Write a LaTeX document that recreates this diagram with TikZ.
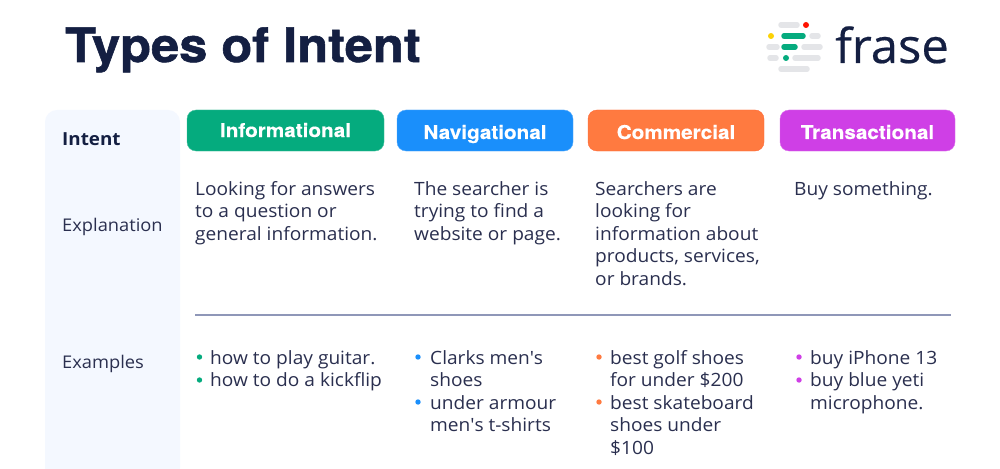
\documentclass[tikz,border=0pt]{standalone}
\usepackage{fontspec}
\setmainfont{Open Sans}[FakeStretch=1.045]
\newfontfamily\titlefont{TeX Gyre Heros}[FakeStretch=1.065,BoldFeatures={FakeBold=1.2}]
\newfontfamily\headfont{TeX Gyre Heros}[FakeStretch=1.09,BoldFeatures={FakeBold=0.3}]
\newfontfamily\logofont{Open Sans}[FakeBold=0.4,FakeStretch=1.02]
\definecolor{navy}{HTML}{141F42}
\definecolor{ink}{HTML}{2A2F4F}
\definecolor{panelblue}{HTML}{F4F8FF}
\definecolor{infogreen}{HTML}{05AB7E}
\definecolor{navblue}{HTML}{1A8FFB}
\definecolor{commorange}{HTML}{FF7A40}
\definecolor{transpurple}{HTML}{CF3FE6}
\definecolor{rulegray}{HTML}{8F97B8}
\definecolor{logogray}{HTML}{E4E5E8}
\tikzset{
  head/.style={rounded corners=9pt, minimum height=41pt, inner sep=0pt, text=white, text height=17pt, text depth=0pt, font=\fontsize{19}{22}\selectfont\headfont\bfseries},
  rowlabel/.style={anchor=base west, inner sep=0pt, text=ink, font=\fontsize{17.5}{22}\selectfont},
  body/.style={anchor=base west, inner sep=0pt, text=ink, font=\fontsize{18.3}{22}\selectfont},
  logobar/.style={line width=5.5pt, line cap=round}
}
\begin{document}
\begin{tikzpicture}[x=1pt,y=-1pt]
\useasboundingbox (0,0) rectangle (1000,468);
\fill[white] (0,0) rectangle (1000,468);
\fill[panelblue, rounded corners=12pt] (45,480) -- (45,110) -- (180,110) -- (180,480) -- cycle;
\node[anchor=base west, inner sep=0pt, text=navy, font=\fontsize{47.5}{56}\selectfont\titlefont\bfseries] (title) at (65,62) {Types of Intent};
\foreach \xa/\xb/\yy in {779/799/25, 810/820/36, 767/779/47, 802/822/47, 768/778/58, 793/820/58, 779/809/69} {
    \draw[logobar, logogray] (\xa+2,\yy) -- (\xb-2,\yy);
}
\foreach \xa/\xb/\yy in {782/805/36, 782/797/47} {
    \draw[logobar, infogreen] (\xa+2,\yy) -- (\xb-2,\yy);
}
\fill[infogreen] (786,58) circle (3pt);
\fill[red!85!orange] (806,25) circle (3pt);
\fill[yellow!70!orange] (771,36) circle (3pt);
\node[anchor=base west, inner sep=0pt, text=navy, font=\fontsize{48}{52}\selectfont\logofont] (logo) at (835,63) {frase};
\node[rowlabel, text=navy, font=\fontsize{18}{22}\selectfont\bfseries] (intent) at (62,145) {Intent};
\node[rowlabel] (explanation) at (62,231) {Explanation};
\node[rowlabel] (examples) at (62,368) {Examples};
\node[head, fill=infogreen, draw=infogreen!75!white, minimum width=197pt, text height=13pt] (informational) at (285.5,130.5) {Informational};
\node[head, fill=navblue, draw=navblue!75!white, minimum width=176pt] (navigational) at (485,130.5) {Navigational};
\node[head, fill=commorange, draw=commorange!85!red, minimum width=176pt] (commercial) at (676,130.5) {Commercial};
\node[head, fill=transpurple, draw=transpurple!75!white, minimum width=175pt] (transactional) at (867.5,130.5) {Transactional};
\foreach \xx/\yy/\txt in {
    195/195/Looking for answers, 195/217/to a question or, 195/240/general information.,
    414/195/The searcher is, 414/217/trying to find a, 414/240/website or page.,
    595/195/Searchers are, 595/217/looking for, 595/240/information about, 595/262/{products, services,}, 595/285/or brands.,
    794/195/Buy something.} {
    \node[body] at (\xx,\yy) {\txt};
}
\draw[rulegray, line width=1.2pt] (195,315) -- (951,315);
\foreach \xx/\yy/\txt in {
    210/364/how to play guitar., 210/386/how to do a kickflip,
    430/364/Clarks men\textquotesingle s, 430/386/shoes, 430/409/under armour, 430/431/men\textquotesingle s t-shirts,
    610/364/best golf shoes, 610/386/for under \$200, 610/409/best skateboard, 610/431/shoes under, 610/454/\$100,
    810/364/buy iPhone 13, 810/386/buy blue yeti, 810/409/microphone.} {
    \node[body] at (\xx,\yy) {\txt};
}
\foreach \xx/\yy in {199.5/357, 199.5/380} {\fill[infogreen] (\xx,\yy) circle (2.7pt);}
\foreach \xx/\yy in {418/357, 418/402} {\fill[navblue] (\xx,\yy) circle (2.7pt);}
\foreach \xx/\yy in {599/357, 599/402} {\fill[commorange] (\xx,\yy) circle (2.7pt);}
\foreach \xx/\yy in {799/357, 799/380} {\fill[transpurple] (\xx,\yy) circle (2.7pt);}
\end{tikzpicture}
\end{document}
